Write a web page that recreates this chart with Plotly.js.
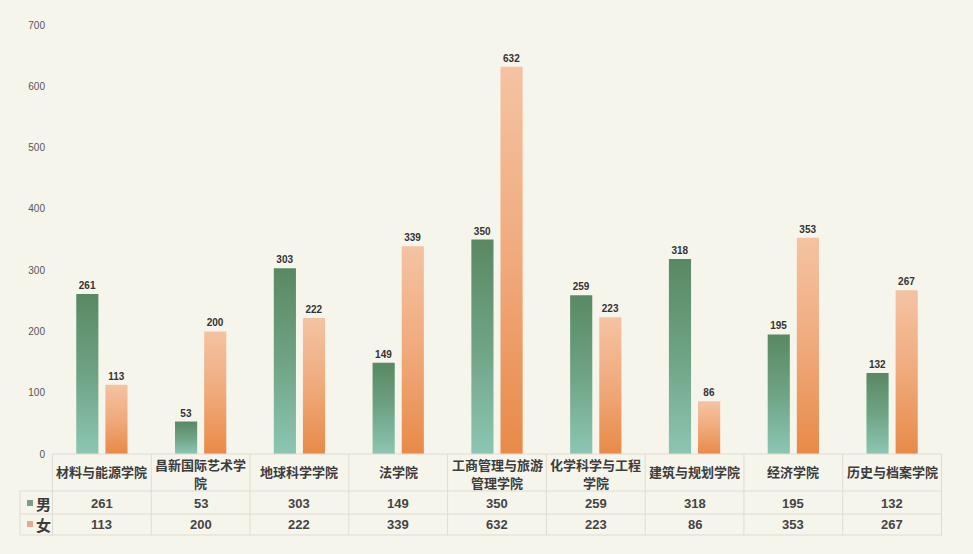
<!DOCTYPE html>
<html>
<head>
<meta charset="utf-8">
<script src="https://cdn.plot.ly/plotly-3.0.1.min.js"></script>
<style>
html,body{margin:0;padding:0;background:#f6f5ec;}
#chart{width:973px;height:554px;}
</style>
</head>
<body>
<div id="chart"></div>
<script>
// ---- data ----
var categories = ['材料与能源学院','昌新国际艺术学院','地球科学学院','法学院','工商管理与旅游管理学院','化学科学与工程学院','建筑与规划学院','经济学院','历史与档案学院'];
var categoryLabelLines = [['材料与能源学院'],['昌新国际艺术学','院'],['地球科学学院'],['法学院'],['工商管理与旅游','管理学院'],['化学科学与工程','学院'],['建筑与规划学院'],['经济学院'],['历史与档案学院']];
var seriesNames = ['男','女'];
var maleValues = [261, 53, 303, 149, 350, 259, 318, 195, 132];
var femaleValues = [113, 200, 222, 339, 632, 223, 86, 353, 267];
var yTicks = [0,100,200,300,400,500,600,700];

// ---- geometry helpers (pixels -> paper) ----
var W = 973, H = 554, ML = 52, MR = 31, MT = 25, MB = 100;
var PW = W - ML - MR, PH = H - MT - MB;
function py(pix){ return (H - MB - pix) / PH; }
function px(pix){ return (pix - ML) / PW; }

var numFont = {family:'Liberation Sans, Arial, sans-serif', size:10, color:'#333', weight:'bold'};
var cjkFont = {family:'Noto Sans CJK SC, sans-serif', size:13, color:'#3c3c3c', weight:'bold'};
var cellFont = {family:'Liberation Sans, Arial, sans-serif', size:13, color:'#444', weight:'bold'};

var traces = [
  {type:'bar', name:seriesNames[0], x:categories, y:maleValues,
   marker:{color:'#6f9f85'}, text:maleValues.map(String), textposition:'outside',
   textfont:numFont, cliponaxis:false, hoverinfo:'x+y'},
  {type:'bar', name:seriesNames[1], x:categories, y:femaleValues,
   marker:{color:'#eea676'}, text:femaleValues.map(String), textposition:'outside',
   textfont:numFont, cliponaxis:false, hoverinfo:'x+y'}
];

var shapes = [], annotations = [];
var lineColor = '#dedcd2';
// horizontal table lines
shapes.push({type:'line', xref:'paper', yref:'paper', x0:0, x1:1, y0:py(454), y1:py(454), line:{color:lineColor,width:1}});
[491,514,535].forEach(function(p){
  shapes.push({type:'line', xref:'paper', yref:'paper', x0:px(20), x1:1, y0:py(p), y1:py(p), line:{color:lineColor,width:1}});
});
// vertical table lines
for (var k=0;k<=categories.length;k++){
  shapes.push({type:'line', xref:'x', yref:'paper', x0:k-0.5, x1:k-0.5, y0:py(454), y1:py(535), line:{color:lineColor,width:1}});
}
shapes.push({type:'line', xref:'paper', yref:'paper', x0:px(20), x1:px(20), y0:py(491), y1:py(535), line:{color:lineColor,width:1}});
// legend squares
shapes.push({type:'rect', xref:'paper', yref:'paper', x0:px(27), x1:px(33), y0:py(500), y1:py(506), line:{width:0}, fillcolor:'#7f9c8a'});
shapes.push({type:'rect', xref:'paper', yref:'paper', x0:px(27), x1:px(33), y0:py(521), y1:py(527), line:{width:0}, fillcolor:'#e2ab95'});

// category labels and table values
categories.forEach(function(c,i){
  var lines = categoryLabelLines[i];
  if (lines.length === 1) {
    annotations.push({xref:'x', yref:'paper', x:i, y:py(472), text:lines[0], showarrow:false, font:cjkFont, yanchor:'middle', xanchor:'center', borderpad:0});
  } else {
    annotations.push({xref:'x', yref:'paper', x:i, y:py(464), text:lines[0], showarrow:false, font:cjkFont, yanchor:'middle', xanchor:'center', borderpad:0});
    annotations.push({xref:'x', yref:'paper', x:i, y:py(482), text:lines[1], showarrow:false, font:cjkFont, yanchor:'middle', xanchor:'center', borderpad:0});
  }
  annotations.push({xref:'x', yref:'paper', x:i, y:py(503), text:String(maleValues[i]), showarrow:false, font:cellFont, yanchor:'middle'});
  annotations.push({xref:'x', yref:'paper', x:i, y:py(524), text:String(femaleValues[i]), showarrow:false, font:cellFont, yanchor:'middle'});
});
var rowFont = {family:'Noto Sans CJK SC, sans-serif', size:15, color:'#3c3c3c', weight:'bold'};
annotations.push({xref:'paper', yref:'paper', x:px(34), y:py(503), text:seriesNames[0], showarrow:false, font:rowFont, xanchor:'left', yanchor:'middle'});
annotations.push({xref:'paper', yref:'paper', x:px(34), y:py(524), text:seriesNames[1], showarrow:false, font:rowFont, xanchor:'left', yanchor:'middle'});

var layout = {
  width:W, height:H,
  margin:{l:ML, r:MR, t:MT, b:MB, pad:0},
  paper_bgcolor:'#f6f5ec', plot_bgcolor:'#f6f5ec',
  barmode:'group', bargap:0.41, bargroupgap:0.24,
  showlegend:false,
  xaxis:{showticklabels:false, showgrid:false, zeroline:false, showline:false, ticks:'', fixedrange:true},
  yaxis:{range:[0,700], tickvals:yTicks, showgrid:false, zeroline:false, showline:false, ticks:'',
         ticklabelstandoff:6, tickfont:{family:'Liberation Sans, Arial, sans-serif', size:10, color:'#555'}},
  shapes:shapes, annotations:annotations,
  font:{family:'Liberation Sans, Arial, sans-serif'}
};

Plotly.newPlot('chart', traces, layout, {displayModeBar:false, staticPlot:true}).then(function(gd){
  var svg = gd.querySelector('svg.main-svg');
  var ns = 'http://www.w3.org/2000/svg';
  var defs = svg.querySelector('defs') || svg.insertBefore(document.createElementNS(ns,'defs'), svg.firstChild);
  function grad(id, stops){
    var g = document.createElementNS(ns,'linearGradient');
    g.setAttribute('id',id); g.setAttribute('x1','0'); g.setAttribute('y1','0'); g.setAttribute('x2','0'); g.setAttribute('y2','1');
    stops.forEach(function(s){
      var st = document.createElementNS(ns,'stop');
      st.setAttribute('offset', s[0]); st.setAttribute('stop-color', s[1]);
      g.appendChild(st);
    });
    defs.appendChild(g);
  }
  grad('gMale', [['0','#588962'],['0.5','#6fa385'],['1','#8cc6b3']]);
  grad('gFemale', [['0','#f4c3a2'],['0.5','#f0aa7c'],['1','#e88a48']]);
  var groups = gd.querySelectorAll('.trace.bars');
  var ids = ['gMale','gFemale'];
  groups.forEach(function(g,i){
    g.querySelectorAll('.point path').forEach(function(p){
      p.style.fill = 'url(#' + ids[i] + ')';
    });
  });
});
</script>
</body>
</html>
